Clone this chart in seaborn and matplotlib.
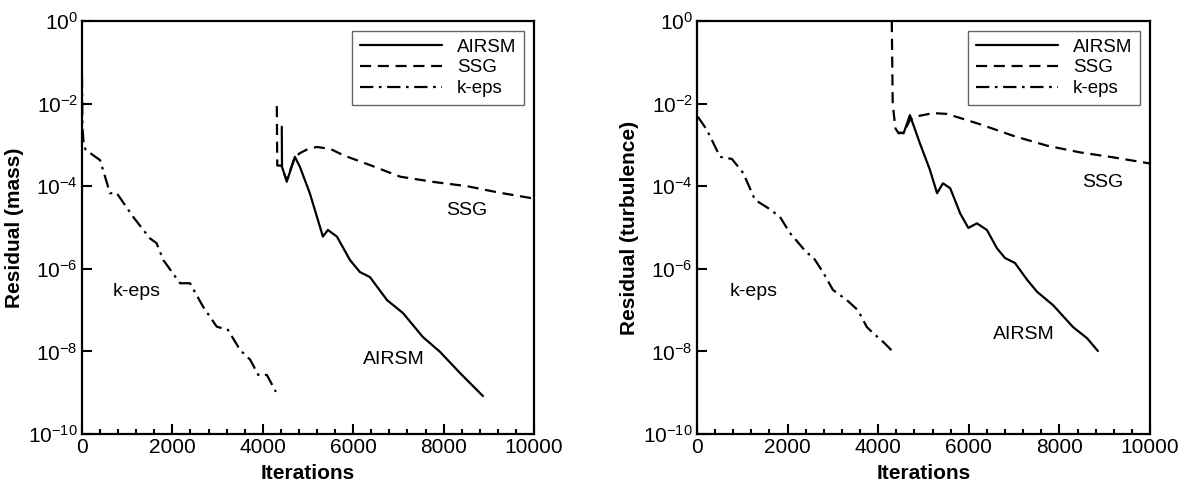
import numpy as np
import pandas as pd
import matplotlib
matplotlib.use('Agg')
import matplotlib.pyplot as plt
from matplotlib.ticker import MultipleLocator, NullLocator
import seaborn as sns

# values are log10(residual)
# --- mass residual (left panel)
keps_mass_x = [0, 10, 40, 83, 400, 620, 770, 1130, 1500, 1650, 1800, 2170, 2390,
               2680, 2980, 3230, 3500, 3720, 3900, 4090, 4290]
keps_mass_y = [-1.3, -2.6, -3.0, -3.12, -3.37, -4.17, -4.17, -4.74, -5.26, -5.38,
               -5.79, -6.35, -6.35, -6.92, -7.4, -7.48, -7.97, -8.2, -8.57, -8.57, -8.98]
ssg_mass_x = [4310, 4320, 4400, 4530, 4710, 4820, 5000, 5200, 5500, 5780, 6400,
              7040, 7800, 8520, 9200, 10000]
ssg_mass_y = [-2.06, -3.5, -3.5, -3.85, -3.3, -3.2, -3.1, -3.05, -3.1, -3.25, -3.5,
              -3.77, -3.9, -4.0, -4.15, -4.3]
airsm_mass_x = [4420, 4425, 4530, 4710, 4820, 5040, 5330, 5440, 5640, 5930, 6150,
                6370, 6750, 7100, 7540, 7920, 8360, 8870]
airsm_mass_y = [-2.56, -3.53, -3.89, -3.29, -3.53, -4.17, -5.22, -5.06, -5.22, -5.79,
                -6.08, -6.2, -6.76, -7.07, -7.65, -8.01, -8.52, -9.08]

# --- turbulence residual (right panel)
keps_turb_x = [20, 220, 510, 770, 1020, 1280, 1570, 1830, 2050, 2430, 2560, 2780,
               3000, 3310, 3550, 3750, 3880, 4110, 4310]
keps_turb_y = [-2.32, -2.64, -3.29, -3.34, -3.68, -4.33, -4.53, -4.74, -5.13, -5.62,
               -5.71, -6.08, -6.51, -6.76, -7.0, -7.41, -7.55, -7.77, -7.99]
ssg_turb_x = [4300, 4320, 4380, 4450, 4560, 4700, 4800, 5210, 5520, 6250, 6980,
              7730, 8450, 9180, 10000]
ssg_turb_y = [0.0, -2.0, -2.6, -2.72, -2.7, -2.4, -2.32, -2.23, -2.25, -2.5, -2.78,
              -3.02, -3.18, -3.3, -3.45]
airsm_turb_x = [4450, 4560, 4700, 4920, 5140, 5300, 5430, 5590, 5810, 5990, 6180,
                6400, 6620, 6800, 7020, 7290, 7510, 7860, 8300, 8610, 8850]
airsm_turb_y = [-2.7, -2.72, -2.28, -2.96, -3.6, -4.17, -3.93, -4.05, -4.66, -5.01,
                -4.9, -5.06, -5.5, -5.74, -5.86, -6.27, -6.56, -6.88, -7.41, -7.68, -7.99]

models = ['AIRSM', 'SSG', 'k-eps']
y_ticks = [1e0, 1e-2, 1e-4, 1e-6, 1e-8, 1e-10]

# labels placed on the curves: (x, log10 y)
notes_mass = {'k-eps': (1210, -6.56), 'AIRSM': (6890, -8.2), 'SSG': (8510, -4.58)}
notes_turb = {'k-eps': (1240, -6.56), 'AIRSM': (7210, -7.6), 'SSG': (8950, -3.9)}


def make_df(curves):
    parts = []
    for name, (xs, ys) in curves.items():
        parts.append(pd.DataFrame({'Iterations': xs,
                                   'Residual': 10.0 ** np.array(ys),
                                   'model': name}))
    return pd.concat(parts, ignore_index=True)


def draw(ax, df, ylabel, notes):
    sns.lineplot(data=df, x='Iterations', y='Residual', style='model',
                 style_order=models, color='black', linewidth=1.6,
                 dashes={'AIRSM': '', 'SSG': (5, 3), 'k-eps': (6, 2.5, 1.2, 2.5)},
                 sort=False, estimator=None, ax=ax)
    ax.set_yscale('log')
    ax.set_xlim(0, 10000)
    ax.set_ylim(1e-10, 1e0)
    ax.set_yticks(y_ticks)
    ax.yaxis.set_minor_locator(NullLocator())
    ax.xaxis.set_major_locator(MultipleLocator(2000))
    ax.xaxis.set_minor_locator(MultipleLocator(400))
    ax.tick_params(which='both', direction='in', top=False, right=False,
                   bottom=True, left=True, labelsize=15, width=1.5,
                   colors='black')
    ax.tick_params(which='major', length=7, pad=3)
    ax.tick_params(which='minor', length=3.5)
    ax.tick_params(axis='y', which='minor', left=False)
    for s in ax.spines.values():
        s.set_linewidth(1.6)
    ax.set_xlabel('Iterations', fontsize=15, fontweight='bold', labelpad=5)
    ax.set_ylabel(ylabel, fontsize=15, fontweight='bold', labelpad=3)

    for name, (tx, ty) in notes.items():
        ax.text(tx, 10.0 ** ty, name, fontsize=14, ha='center', va='center',
                color='black')

    handles, labels = ax.get_legend_handles_labels()
    ax.legend(handles, labels, loc='upper right',
              bbox_to_anchor=(1 - 10 / 452, 1 - 10 / 413), borderaxespad=0,
              fontsize=13.5, fancybox=False, edgecolor='0.4', framealpha=1,
              handlelength=4.4, handletextpad=0.8, labelspacing=0.2,
              borderpad=0.4)
    ax.get_legend().get_frame().set_linewidth(1.0)


sns.set_style('white')
plt.rcParams['font.family'] = ['Liberation Sans', 'DejaVu Sans']
plt.rcParams['axes.edgecolor'] = 'black'
plt.rcParams['text.color'] = 'black'
plt.rcParams['axes.labelcolor'] = 'black'
plt.rcParams['xtick.color'] = 'black'
plt.rcParams['ytick.color'] = 'black'

fig = plt.figure(figsize=(11.87, 4.84), dpi=100)
ax0 = fig.add_axes([82 / 1187, 1 - 434 / 484, 452 / 1187, 413 / 484])
ax1 = fig.add_axes([697 / 1187, 1 - 434 / 484, 453 / 1187, 413 / 484])

df_mass = make_df({'AIRSM': (airsm_mass_x, airsm_mass_y),
                   'SSG': (ssg_mass_x, ssg_mass_y),
                   'k-eps': (keps_mass_x, keps_mass_y)})
df_turb = make_df({'AIRSM': (airsm_turb_x, airsm_turb_y),
                   'SSG': (ssg_turb_x, ssg_turb_y),
                   'k-eps': (keps_turb_x, keps_turb_y)})

draw(ax0, df_mass, 'Residual (mass)', notes_mass)
draw(ax1, df_turb, 'Residual (turbulence)', notes_turb)

fig.savefig('out.png', dpi=100)
